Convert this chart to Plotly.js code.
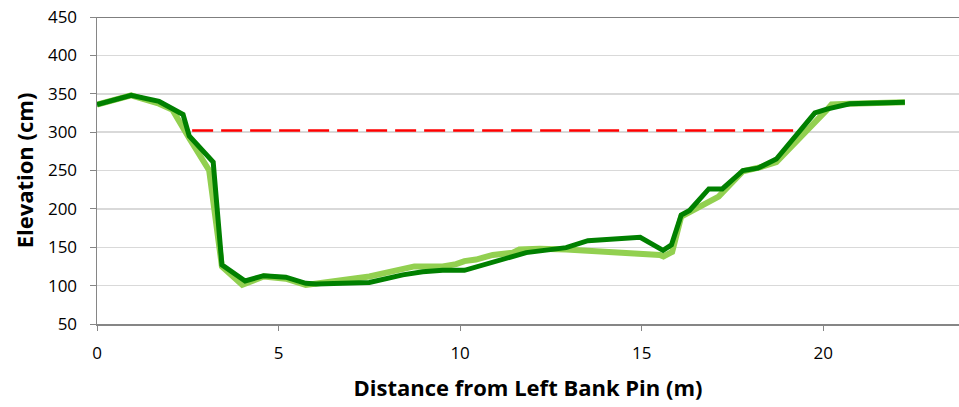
<!DOCTYPE html>
<html><head><meta charset="utf-8">
<script src="https://cdn.plot.ly/plotly-3.0.1.min.js"></script>
<style>html,body{margin:0;padding:0;background:#fff}#chart{width:959px;height:407px}</style>
</head><body><div id="chart"></div>
<script>
const survey1X = [0, 0.94, 1.71, 2.08, 2.54, 3.09, 3.44, 4.0, 4.59, 5.2, 5.75, 6.86, 7.5, 8.74, 9.52, 9.89, 10.12, 10.44, 10.9, 11.45, 11.63, 12.19, 12.92, 15.5, 15.6, 15.84, 16.09, 17.12, 17.79, 18.25, 18.71, 20.1, 20.23, 20.73, 22.25];
const survey1Y = [336, 348, 337, 329, 292, 250, 125, 101, 112, 109, 101, 108, 112, 125, 125, 128, 132, 134, 140, 143, 147, 148, 147, 140, 138, 144, 190, 216, 249, 254, 261, 329, 336, 337, 339];
const survey2X = [0, 0.94, 1.71, 2.37, 2.54, 3.2, 3.44, 4.08, 4.59, 5.2, 5.75, 6.03, 7.5, 8.42, 8.97, 9.52, 10.12, 10.9, 11.82, 12.92, 13.52, 14.96, 15.59, 15.82, 16.09, 16.32, 16.85, 17.22, 17.79, 18.2, 18.71, 19.77, 20.1, 20.73, 22.25];
const survey2Y = [336, 348, 340, 323, 295, 261, 127, 106, 113, 111, 103, 102, 104, 114, 118, 120, 120, 131, 143, 149.5, 158.5, 163, 146, 153, 192, 198, 226, 226, 250, 253, 265, 325, 330, 337, 339];
const waterX = [2.62, 19.27];
const waterY = [302, 302];
const yTicks = [50, 100, 150, 200, 250, 300, 350, 400, 450];
const xTicks = [0, 5, 10, 15, 20];

const font = "'Open Sans', 'Liberation Sans', sans-serif";
const traces = [
  {x: survey1X, y: survey1Y, mode: 'lines', line: {color: '#92D050', width: 6}, hoverinfo: 'skip'},
  {x: waterX, y: waterY, mode: 'lines', line: {color: '#FF0000', width: 2.5, dash: '21px,8px'}, hoverinfo: 'skip'},
  {x: survey2X, y: survey2Y, mode: 'lines', line: {color: '#008000', width: 5}, hoverinfo: 'skip'}
];
const layout = {
  width: 959, height: 407,
  margin: {l: 97, r: 0, t: 17, b: 83},
  paper_bgcolor: '#fff', plot_bgcolor: '#fff',
  showlegend: false,
  font: {family: font, size: 17, color: '#000'},
  xaxis: {
    range: [0, 23.74], tickvals: xTicks, ticktext: xTicks.map(String),
    showgrid: false, zeroline: false, showline: true, linecolor: '#868686', linewidth: 2,
    ticks: 'outside', ticklen: 5, tickcolor: '#868686', tickwidth: 1,
    ticklabelstandoff: 8,
    tickfont: {size: 17, family: font},
    title: {text: '<b>Distance from Left Bank Pin (m)</b>', font: {size: 22, family: font}, standoff: 17}
  },
  yaxis: {
    range: [50, 450], tickvals: yTicks, ticktext: yTicks.map(String),
    showgrid: true, gridcolor: '#D9D9D9', gridwidth: 1.5, zeroline: false,
    showline: true, linecolor: '#868686', linewidth: 1.5,
    ticks: 'outside', ticklen: 6, tickcolor: '#868686', tickwidth: 1,
    ticklabelstandoff: 9,
    tickfont: {size: 17, family: font},
    title: {text: '<b>Elevation (cm)</b>', font: {size: 22, family: font}, standoff: 8}
  },
  shapes: [{type: 'line', xref: 'paper', yref: 'y', x0: 0, x1: 1, y0: 450, y1: 450, line: {color: '#000', width: 1.2}}]
};
Plotly.newPlot('chart', traces, layout, {displayModeBar: false, staticPlot: true});
</script></body></html>
